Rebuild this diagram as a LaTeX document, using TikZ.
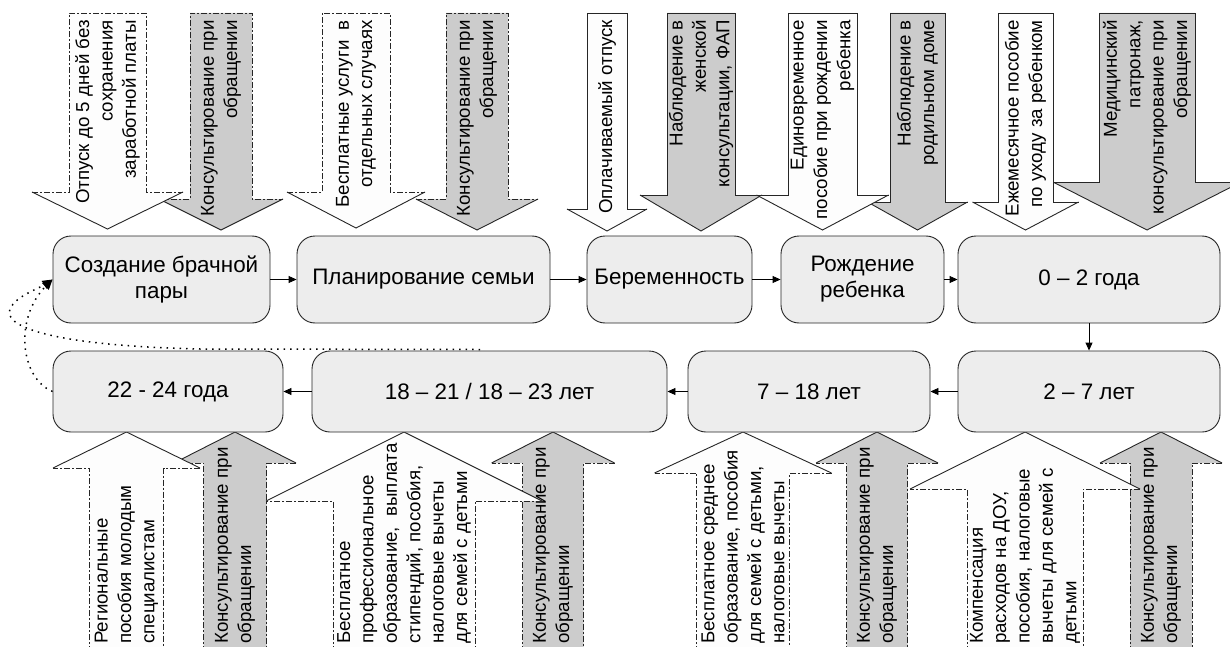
\documentclass[tikz,border=0pt]{standalone}
\usepackage{fontspec}
\setmainfont{Liberation Sans}
\usetikzlibrary{arrows.meta,calc}
\definecolor{boxfill}{HTML}{EDEDED}
\definecolor{grayarr}{HTML}{CCCCCC}
\definecolor{whitearr}{HTML}{FDFDFD}
\definecolor{edgecol}{HTML}{262626}
\newcommand{\DownArr}[7]{%
 \fill[#6] ({#1-#2},13) -- ({#1+#2},13) -- ({#1+#2},#3) -- ({#1+#4},#3) -- (#1,#5) -- ({#1-#4},#3) -- ({#1-#2},#3) -- cycle;
 \draw[outl,#7] ({#1-#4},#3) -- ({#1-#2},#3) -- ({#1-#2},13) -- ({#1+#2},13) -- ({#1+#2},#3) -- ({#1+#4},#3);
 \draw[outl] ({#1-#4},#3) -- (#1,#5) -- ({#1+#4},#3);
}
\newcommand{\UpArr}[7]{%
 \fill[#6] ({#1-#2},652) -- ({#1-#2},#3) -- ({#1-#4},#3) -- (#1,#5) -- ({#1+#4},#3) -- ({#1+#2},#3) -- ({#1+#2},652) -- cycle;
 \draw[outl,#7] ({#1-#2},652) -- ({#1-#2},#3) -- ({#1-#4},#3);
 \draw[outl,#7] ({#1+#4},#3) -- ({#1+#2},#3) -- ({#1+#2},652);
 \draw[outl] ({#1-#4},#3) -- (#1,#5) -- ({#1+#4},#3);
}
\tikzset{
 outl/.style={draw=edgecol, line width=0.9pt, line join=miter},
 arrdash/.style={dash pattern=on 6pt off 2pt on 2pt off 2pt},
 arrsolid/.style={solid},
 toptext/.style={rotate=90, anchor=east, align=right, inner sep=0pt, font=\fontsize{18.7}{23.4}\selectfont},
 bottext/.style={rotate=90, anchor=west, align=left, inner sep=0pt, font=\fontsize{18.7}{23.4}\selectfont},
 stagebox/.style={draw=edgecol, line width=0.9pt, fill=boxfill, rounded corners=18pt, align=center, inner sep=2pt, font=\fontsize{22.4}{26}\selectfont},
 conn/.style={draw=black, line width=0.9pt, -{Triangle[length=8pt,width=7pt]}},
 dotconn/.style={draw=black, line width=1.5pt, dash pattern=on 1.5pt off 5pt, -{Triangle[length=10pt,width=9pt]}}
}
\begin{document}
\begin{tikzpicture}[x=1pt,y=-1pt]
\useasboundingbox (0,0) rectangle (1230,647);
\clip (0,0) rectangle (1230,647);
\fill[white] (0,0) rectangle (1230,647);
% ---------- top arrows ----------
\DownArr{221}{31}{199}{62}{230}{grayarr}{arrdash}
\node[toptext] (tA2) at (221,20) {Консультирование при\\обращении};
\DownArr{107.5}{38.5}{192}{75.5}{229}{whitearr}{arrdash}
\node[toptext] (tA1) at (107.5,20) {Отпуск до 5 дней без\\сохранения\\заработной платы};
\DownArr{477}{31}{199}{61}{230}{grayarr}{arrdash}
\node[toptext] (tA4) at (477,20) {Консультирование при\\обращении};
\DownArr{356}{34}{192}{69}{228}{whitearr}{arrdash}
\node[toptext] (tA3) at (356,20) {Бесплатные услуги\ \ в\\отдельных случаях};
\DownArr{701}{34}{195}{61}{231}{grayarr}{arrsolid}
\node[toptext] (tA6) at (701,20) {Наблюдение в\\женской\\консультации, ФАП};
\DownArr{607}{20}{209}{40}{231}{whitearr}{arrsolid}
\node[toptext] (tA5) at (607,20) {Оплачиваемый отпуск};
\DownArr{917.5}{27.5}{202}{50}{230}{grayarr}{arrsolid}
\node[toptext] (tA8) at (917.5,20) {Наблюдение в\\родильном доме};
\DownArr{822.5}{34.5}{195}{66}{230}{whitearr}{arrsolid}
\node[toptext] (tA7) at (822.5,20) {Единовременное\\пособие при рождении\\ребенка};
\DownArr{1147}{48}{182}{94}{230}{grayarr}{arrsolid}
\node[toptext] (tA10) at (1147,20) {Медицинский\\патронаж,\\консультирование при\\обращении};
\DownArr{1025.5}{27.5}{202}{53}{230}{whitearr}{arrsolid}
\node[toptext] (tA9) at (1025.5,20) {Ежемесячное пособие\\по уходу за ребенком};
% ---------- bottom arrows ----------
\UpArr{235}{31.5}{463}{61}{432}{grayarr}{arrdash}
\node[bottext] (tB2) at (235,644) {Консультирование при\\обращении};
\UpArr{126.5}{37}{468}{73.5}{432}{whitearr}{arrdash}
\node[bottext] (tB1) at (126.5,644) {Региональные\\пособия молодым\\специалистам};
\UpArr{553}{30.5}{463}{61.5}{432}{grayarr}{arrdash}
\node[bottext] (tB4) at (553,644) {Консультирование при\\обращении};
\UpArr{404}{71}{501}{138}{432}{whitearr}{arrdash}
\node[bottext] (tB3) at (404,644) {Бесплатное\\профессиональное\\образование,\ \ выплата\\стипендий, пособия,\\налоговые вычеты\\для семей с детьми};
\UpArr{877}{30.5}{463}{61}{432}{grayarr}{arrdash}
\node[bottext] (tB6) at (877,644) {Консультирование при\\обращении};
\UpArr{743}{46.5}{473}{88.5}{432}{whitearr}{arrdash}
\node[bottext] (tB5) at (743,644) {Бесплатное среднее\\образование, пособия\\для семей с детьми,\\налоговые вычеты};
\UpArr{1161}{31}{463}{61}{432}{grayarr}{arrdash}
\node[bottext] (tB8) at (1161,644) {Консультирование при\\обращении};
\UpArr{1025}{58}{489}{115}{432}{whitearr}{arrdash}
\node[bottext] (tB7) at (1025,644) {Компенсация\\расходов на ДОУ,\\пособия, налоговые\\вычеты для семей с\\детьми};
% ---------- stage boxes ----------
\node[stagebox, minimum width=217pt, minimum height=87pt] (T1) at (161.5,279.5) {Создание брачной\\пары};
\node[stagebox, minimum width=253pt, minimum height=87pt] (T2) at (423.5,279.5) {Планирование семьи};
\node[stagebox, minimum width=165pt, minimum height=87pt] (T3) at (669.5,279.5) {Беременность};
\node[stagebox, minimum width=163pt, minimum height=87pt] (T4) at (862.5,279.5) {Рождение\\ребенка};
\node[stagebox, minimum width=262pt, minimum height=87pt] (T5) at (1089,279.5) {0 – 2 года};
\node[stagebox, minimum width=230pt, minimum height=81pt] (L1) at (168,391.5) {22 - 24 года};
\node[stagebox, minimum width=355pt, minimum height=81pt] (L2) at (489.5,391.5) {18 – 21 / 18 – 23 лет};
\node[stagebox, minimum width=242pt, minimum height=81pt] (L3) at (809,391.5) {7 – 18 лет};
\node[stagebox, minimum width=262pt, minimum height=81pt] (L4) at (1089,391.5) {2 – 7 лет};
% ---------- connectors ----------
\draw[conn] (T1.east) -- (T2.west);
\draw[conn] (T2.east) -- (T3.west);
\draw[conn] (T3.east) -- (T4.west);
\draw[conn] (T4.east) -- (T5.west);
\draw[conn] (T5.south) -- (L4.north);
\draw[conn] (L4.west) -- (L3.east);
\draw[conn] (L3.west) -- (L2.east);
\draw[conn] (L2.west) -- (L1.east);
\coordinate (dstart) at (480,349.5);
\draw[dotconn] (dstart) -- (200,349) .. controls (60,346) and (2,328) .. (10,309) .. controls (16,296) and (36,290) .. (T1.west);
\draw[dotconn] (L1.west) .. controls (20,378) and (14,318) .. (T1.west);
\end{tikzpicture}
\end{document}
